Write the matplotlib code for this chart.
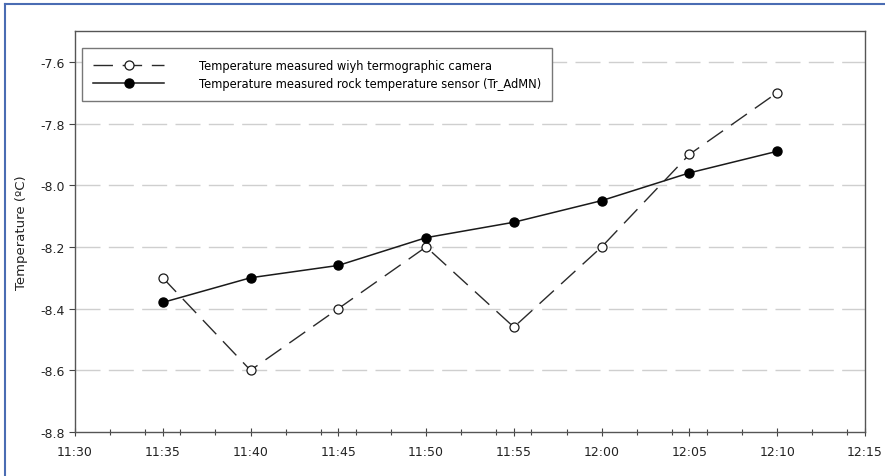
import datetime as dt
import matplotlib
matplotlib.use("Agg")
import matplotlib.pyplot as plt
import matplotlib.dates as mdates
from matplotlib.lines import Line2D

# ==========================
# DATA
# ==========================

times = ["11:35", "11:40", "11:45", "11:50", "11:55", "12:00", "12:05", "12:10"]

camera_temp = [-8.30, -8.60, -8.40, -8.20, -8.46, -8.20, -7.90, -7.70]
sensor_temp = [-8.38, -8.30, -8.26, -8.17, -8.12, -8.05, -7.96, -7.89]

camera_label = "Temperature measured wiyh termographic camera"
sensor_label = "Temperature measured rock temperature sensor (Tr_AdMN)"

y_ticks = [-8.8, -8.6, -8.4, -8.2, -8.0, -7.8, -7.6]

day = dt.date(2000, 1, 1)
x = [dt.datetime.combine(day, dt.datetime.strptime(t, "%H:%M").time()) for t in times]

# ==========================
# FIGURE
# ==========================

fig = plt.figure(figsize=(8.85, 4.77), dpi=100)
ax = fig.add_axes([0.0847, 0.0922, 0.8927, 0.8408])

# grid lines
for yv in y_ticks[1:]:
    ax.axhline(yv, color="#cfcfcf", lw=1.0, dashes=(18, 6), zorder=0)

camera_style = dict(color="#2a2a2a", lw=1.0, dashes=(14, 7), marker="o",
                    markersize=6.5, markerfacecolor="white",
                    markeredgecolor="#1a1a1a", markeredgewidth=0.9)
sensor_style = dict(color="#1a1a1a", lw=1.1, marker="o", markersize=6.5,
                    markerfacecolor="black", markeredgecolor="black")

ax.plot(x, camera_temp, label=camera_label, zorder=3, **camera_style)
ax.plot(x, sensor_temp, label=sensor_label, zorder=4, **sensor_style)

# axes limits and ticks
ax.set_xlim(dt.datetime.combine(day, dt.time(11, 30)),
            dt.datetime.combine(day, dt.time(12, 15)))
ax.set_ylim(-8.8, -7.5)
ax.set_yticks(y_ticks)
ax.set_yticklabels([f"{v:.1f}" for v in y_ticks])

ax.xaxis.set_major_locator(mdates.MinuteLocator(byminute=range(0, 60, 5)))
ax.xaxis.set_minor_locator(mdates.MinuteLocator(byminute=range(0, 60, 2)))
ax.xaxis.set_major_formatter(mdates.DateFormatter("%H:%M"))

ax.tick_params(axis="x", which="major", direction="inout", length=6,
               width=0.8, color="#444444", labelsize=9, pad=6)
ax.tick_params(axis="x", which="minor", direction="inout", length=4,
               width=0.8, color="#444444")
ax.tick_params(axis="y", which="major", direction="out", length=4,
               width=0.8, color="#444444", labelsize=9, pad=3)

for lbl in ax.get_xticklabels() + ax.get_yticklabels():
    lbl.set_color("#222222")

for side in ["left", "bottom", "right", "top"]:
    ax.spines[side].set_color("#555555")
    ax.spines[side].set_linewidth(1.0)

ax.set_ylabel("Temperature (ºC)", fontsize=9.5, color="#222222", labelpad=9)

# legend
handles = [Line2D([], [], **camera_style), Line2D([], [], **sensor_style)]
leg = ax.legend(
    handles, [camera_label, sensor_label],
    loc="upper left", bbox_to_anchor=(0.009, 0.957),
    fontsize=8.3, handlelength=6.2, handletextpad=3.0,
    borderpad=0.95, labelspacing=0.45, borderaxespad=0.0,
    fancybox=False, framealpha=1.0, edgecolor="#777777"
)
leg.get_frame().set_linewidth(1.0)
leg.set_zorder(5)

# figure border on left and top
fig.add_artist(Line2D([0.0058, 0.0058], [0.0, 0.99], color="#4a6cb3",
                      lw=1.5, transform=fig.transFigure))
fig.add_artist(Line2D([0.0058, 1.0], [0.99, 0.99], color="#4a6cb3",
                      lw=1.5, transform=fig.transFigure))

fig.savefig("out.png", dpi=100)
